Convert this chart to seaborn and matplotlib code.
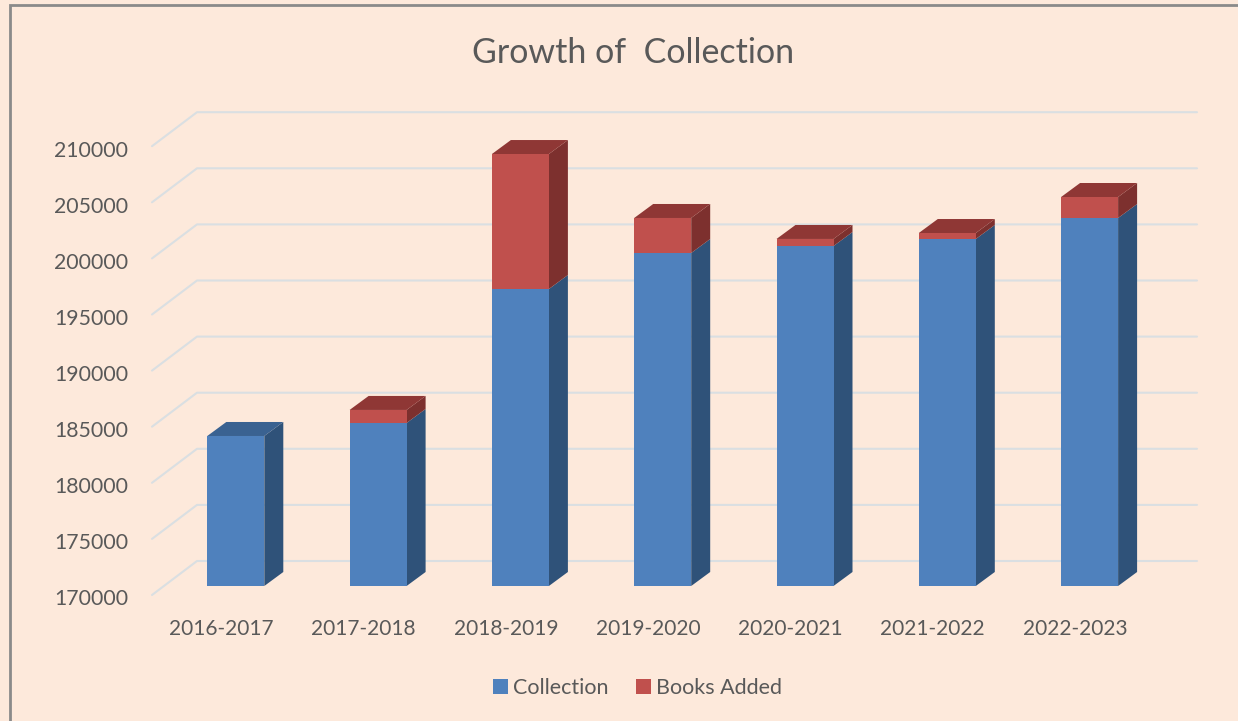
import matplotlib
matplotlib.use("Agg")
import matplotlib.pyplot as plt
import seaborn as sns
from matplotlib.patches import Rectangle
from matplotlib.transforms import ScaledTranslation

# Data
years = ["2016-2017", "2017-2018", "2018-2019", "2019-2020", "2020-2021", "2021-2022", "2022-2023"]
collection = [183370, 184530, 196470, 199680, 200300, 200930, 202800]
books_added = [0, 1160, 12030, 3120, 630, 530, 1870]
y_ticks = [170000, 175000, 180000, 185000, 190000, 195000, 200000, 205000, 210000]

W, H, DPI = 1238, 721, 100
BG = "#FDE9DB"
TEXT = "#595959"
GRID = "#DADFE2"

# pixel scale of the fake 3D plane
PX_X = 142.3            # pixels per category
PX_Y = 56.1 / 5000      # pixels per book
LEFT, RIGHT, BASE, TOP = 152, 1197, 586, 100
CENTER0 = 235.8         # pixel x of the first bar
BAR_W = 57 / PX_X

# depth of the bars and of the wall, pixels turned into data units
bar_dx, bar_dy = 19 / PX_X, 14 / PX_Y
wall_x0 = (LEFT - CENTER0) / PX_X
wall_x1 = (197 - CENTER0) / PX_X
wall_x2 = (RIGHT - CENTER0) / PX_X
wall_front, wall_back = -9 / PX_Y, 25 / PX_Y

sns.set_theme(style="white")
plt.rcParams["font.family"] = ["Lato", "DejaVu Sans"]

fig = plt.figure(figsize=(W / DPI, H / DPI), dpi=DPI, facecolor=BG)
ax = fig.add_axes([LEFT / W, 1 - BASE / H, (RIGHT - LEFT) / W, (BASE - TOP) / H])
ax.patch.set_alpha(0)

# Back wall grid, with the slanted piece on the left
for v in y_ticks:
    ax.plot([wall_x0, wall_x1, wall_x2],
            [v + wall_front, v + wall_back, v + wall_back],
            color=GRID, lw=1.5, clip_on=False, zorder=1)

# Front faces
sns.barplot(x=years, y=collection, color="#4F81BD", saturation=1, width=BAR_W,
            label="Collection", linewidth=0, zorder=3, ax=ax)
sns.barplot(x=years, y=books_added, bottom=collection, color="#C0504D", saturation=1,
            width=BAR_W, label="Books Added", linewidth=0, zorder=3, ax=ax)


def side_face(i, y0, y1, color):
    xr = i + BAR_W / 2
    ax.fill([xr, xr + bar_dx, xr + bar_dx, xr],
            [y0, y0 + bar_dy, y1 + bar_dy, y1],
            color=color, lw=0, zorder=2.5)


# Side and top faces
for i in range(len(years)):
    top = collection[i] + books_added[i]
    side_face(i, y_ticks[0], collection[i], "#2F5279")
    if books_added[i] > 0:
        side_face(i, collection[i], top, "#7D302E")
    xl = i - BAR_W / 2
    xr = i + BAR_W / 2
    ax.fill([xl, xr, xr + bar_dx, xl + bar_dx],
            [top, top, top + bar_dy, top + bar_dy],
            color="#8F3735" if books_added[i] > 0 else "#3A6291", lw=0, zorder=2.6)

ax.set_xlim((LEFT - CENTER0) / PX_X, (RIGHT - CENTER0) / PX_X)
ax.set_ylim(y_ticks[0], y_ticks[0] + (BASE - TOP) / PX_Y)
ax.set_yticks(y_ticks)
ax.set_yticklabels([str(v) for v in y_ticks])
sns.despine(ax=ax, left=True, bottom=True)
ax.tick_params(axis="y", length=0, pad=17, labelsize=15.3, labelcolor=TEXT)
ax.tick_params(axis="x", length=0, pad=24, labelsize=15, labelcolor=TEXT)

# y labels line up with the front edge of the wall, x labels sit left of the bars
shift_y = ScaledTranslation(0, -11.5 / DPI, fig.dpi_scale_trans)
for lab in ax.get_yticklabels():
    lab.set_transform(lab.get_transform() + shift_y)
shift_x = ScaledTranslation(-14.5 / DPI, 0, fig.dpi_scale_trans)
for lab in ax.get_xticklabels():
    lab.set_transform(lab.get_transform() + shift_x)

ax.legend(loc="center", bbox_to_anchor=(637.5 / W, 1 - 688 / H), bbox_transform=fig.transFigure,
          ncol=2, frameon=False, fontsize=15.5, labelcolor=TEXT, handlelength=0.7, handleheight=0.7,
          handletextpad=0.25, columnspacing=1.25)

fig.text(633 / W, 1 - 53 / H, "Growth of  Collection", ha="center", va="center",
         fontsize=24.5, color=TEXT)

# Chart frame, only left and top show in the crop
fig.add_artist(Rectangle((9.5 / W, -0.1), 1.2, 1.1 - 5 / H, transform=fig.transFigure,
                         fill=False, edgecolor="#8A8A8A", lw=2))

fig.savefig("out.png", dpi=DPI, facecolor=BG)
